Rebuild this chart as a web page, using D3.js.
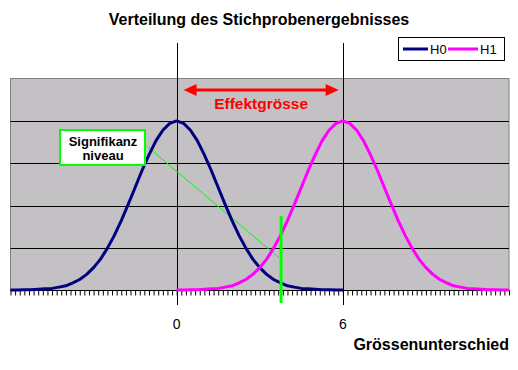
<!DOCTYPE html>
<html>
<head>
<meta charset="utf-8">
<script src="https://cdn.jsdelivr.net/npm/d3@7/dist/d3.min.js"></script>
<style>
  body { margin: 0; background: #fff; }
  text { font-family: "Liberation Sans", Arial, sans-serif; }
</style>
</head>
<body>
<svg id="chart" width="518" height="370"></svg>
<script>
// data
var xH0 = [-6, -5.75, -5.5, -5.25, -5, -4.75, -4.5, -4.25, -4, -3.75, -3.5, -3.25, -3,
           -2.75, -2.5, -2.25, -2, -1.75, -1.5, -1.25, -1, -0.75, -0.5, -0.25, 0,
           0.25, 0.5, 0.75, 1, 1.25, 1.5, 1.75, 2, 2.25, 2.5, 2.75, 3,
           3.25, 3.5, 3.75, 4, 4.25, 4.5, 4.75, 5, 5.25, 5.5, 5.75, 6];
var yH0 = [0.001, 0.001, 0.002, 0.002, 0.003, 0.004, 0.005, 0.008, 0.011, 0.018, 0.026, 0.038, 0.054,
           0.074, 0.100, 0.130, 0.165, 0.203, 0.243, 0.283, 0.320, 0.353, 0.378, 0.394, 0.400,
           0.394, 0.378, 0.353, 0.320, 0.283, 0.243, 0.203, 0.165, 0.130, 0.100, 0.074, 0.054,
           0.038, 0.026, 0.018, 0.011, 0.008, 0.005, 0.004, 0.003, 0.002, 0.002, 0.001, 0.001];
var xH1 = [0, 0.25, 0.5, 0.75, 1, 1.25, 1.5, 1.75, 2, 2.25, 2.5, 2.75, 3,
           3.25, 3.5, 3.75, 4, 4.25, 4.5, 4.75, 5, 5.25, 5.5, 5.75, 6,
           6.25, 6.5, 6.75, 7, 7.25, 7.5, 7.75, 8, 8.25, 8.5, 8.75, 9,
           9.25, 9.5, 9.75, 10, 10.25, 10.5, 10.75, 11, 11.25, 11.5, 11.75, 12];
var yH1 = [0.001, 0.001, 0.002, 0.002, 0.003, 0.004, 0.005, 0.008, 0.011, 0.018, 0.026, 0.038, 0.054,
           0.074, 0.100, 0.130, 0.165, 0.203, 0.243, 0.283, 0.320, 0.353, 0.378, 0.394, 0.400,
           0.394, 0.378, 0.353, 0.320, 0.283, 0.243, 0.203, 0.165, 0.130, 0.100, 0.074, 0.054,
           0.038, 0.026, 0.018, 0.011, 0.008, 0.005, 0.004, 0.003, 0.002, 0.002, 0.001, 0.001];
var seriesNames = ["H0", "H1"];
var seriesColors = ["#000080", "#ff00ff"];
var tickLabels = [0, 6];
var gridValues = [0.1, 0.2, 0.3, 0.4];
var sigLevel = 3.77;          // green vertical line
var effectFrom = 0.25, effectTo = 5.85;

var svg = d3.select("#chart");
var x = d3.scaleLinear().domain([-6, 12]).range([10.5, 509]);
var y = d3.scaleLinear().domain([0, 0.5]).range([290.5, 78.5]);

// title
svg.append("text")
    .attr("x", 259).attr("y", 25)
    .attr("text-anchor", "middle")
    .style("font-size", "16px").style("font-weight", "bold")
    .text("Verteilung des Stichprobenergebnisses");

// plot area
svg.append("rect")
    .attr("x", x(-6)).attr("y", y(0.5))
    .attr("width", x(12) - x(-6)).attr("height", y(0) - y(0.5))
    .style("fill", "#c4c1c4").style("stroke", "#808080");

svg.selectAll(".grid")
    .data(gridValues)
    .enter().append("line")
    .attr("class", "grid")
    .attr("x1", x(-6)).attr("x2", x(12))
    .attr("y1", function(d){ return Math.round(y(d)) + 0.5; })
    .attr("y2", function(d){ return Math.round(y(d)) + 0.5; })
    .style("stroke", "#000");

// x axis with minor ticks every 1/6
var minorTicks = d3.range(0, 109).map(function(i){ return -6 + i / 6; });
var xAxis = d3.axisBottom(x)
    .tickValues(minorTicks)
    .tickSize(5)
    .tickFormat("");
var gx = svg.append("g")
    .attr("transform", "translate(0," + y(0) + ")")
    .call(xAxis);
gx.select(".domain").remove();
gx.selectAll(".tick line").style("stroke", "#000");
svg.append("line")
    .attr("x1", x(-6)).attr("x2", x(12))
    .attr("y1", y(0)).attr("y2", y(0))
    .style("stroke", "#000");

svg.selectAll(".tlabel")
    .data(tickLabels)
    .enter().append("text")
    .attr("class", "tlabel")
    .attr("x", function(d){ return x(d); })
    .attr("y", 329)
    .attr("text-anchor", "middle")
    .style("font-size", "14px")
    .text(function(d){ return d; });

// long lines at 0 and 6
svg.selectAll(".vline")
    .data(tickLabels)
    .enter().append("line")
    .attr("class", "vline")
    .attr("x1", function(d){ return Math.round(x(d)) + 0.5; })
    .attr("x2", function(d){ return Math.round(x(d)) + 0.5; })
    .attr("y1", 43).attr("y2", 305)
    .style("stroke", "#000");

// leader line from label to significance line
svg.append("line")
    .attr("x1", x(-1.2)).attr("y1", y(0.347))
    .attr("x2", x(3.7)).attr("y2", y(0.077))
    .style("stroke", "#00ff00").style("stroke-width", 1);

// curves
var line = d3.line()
    .x(function(d){ return x(d[0]); })
    .y(function(d){ return y(d[1]); });
var curves = [d3.zip(xH0, yH0), d3.zip(xH1, yH1)];
svg.selectAll(".curve")
    .data(curves)
    .enter().append("path")
    .attr("class", "curve")
    .attr("d", line)
    .style("fill", "none")
    .style("stroke", function(d, i){ return seriesColors[i]; })
    .style("stroke-width", 3)
    .style("stroke-linejoin", "round");

// significance line
svg.append("line")
    .attr("x1", x(sigLevel)).attr("x2", x(sigLevel))
    .attr("y1", 216).attr("y2", 303)
    .style("stroke", "#00ff00").style("stroke-width", 3);

// label box
svg.append("rect")
    .attr("x", 60).attr("y", 130)
    .attr("width", 85).attr("height", 35)
    .style("fill", "#fff").style("stroke", "#00ff00").style("stroke-width", 2);
svg.append("text")
    .attr("x", 103).attr("y", 146)
    .attr("text-anchor", "middle")
    .style("font-size", "13px").style("font-weight", "bold")
    .text("Signifikanz");
svg.append("text")
    .attr("x", 103).attr("y", 160)
    .attr("text-anchor", "middle")
    .style("font-size", "13px").style("font-weight", "bold")
    .text("niveau");

// effect size arrow
var ay = 90;
var ax1 = x(effectFrom), ax2 = x(effectTo);
svg.append("line")
    .attr("x1", ax1 + 8).attr("x2", ax2 - 8)
    .attr("y1", ay).attr("y2", ay)
    .style("stroke", "#ff0000").style("stroke-width", 3);
svg.append("path")
    .attr("d", "M" + ax1 + "," + ay + "L" + (ax1 + 13) + "," + (ay - 6) + "L" + (ax1 + 13) + "," + (ay + 6) + "Z")
    .style("fill", "#ff0000");
svg.append("path")
    .attr("d", "M" + ax2 + "," + ay + "L" + (ax2 - 13) + "," + (ay - 6) + "L" + (ax2 - 13) + "," + (ay + 6) + "Z")
    .style("fill", "#ff0000");
svg.append("text")
    .attr("x", (ax1 + ax2) / 2).attr("y", 109)
    .attr("text-anchor", "middle")
    .style("font-size", "15.5px").style("font-weight", "bold")
    .style("fill", "#ff0000")
    .text("Effektgrösse");

// axis title
svg.append("text")
    .attr("x", 509).attr("y", 350)
    .attr("text-anchor", "end")
    .style("font-size", "16px").style("font-weight", "bold")
    .text("Grössenunterschied");

// legend
svg.append("rect")
    .attr("x", 398.5).attr("y", 37.5)
    .attr("width", 106).attr("height", 23)
    .style("fill", "#fff").style("stroke", "#000");
var legX = [403, 448];
var leg = svg.selectAll(".leg")
    .data(seriesNames)
    .enter().append("g")
    .attr("class", "leg")
    .attr("transform", function(d, i){ return "translate(" + legX[i] + ",49)"; });
leg.append("line")
    .attr("x1", 0).attr("x2", function(d, i){ return i == 0 ? 25 : 30; })
    .style("stroke", function(d, i){ return seriesColors[i]; })
    .style("stroke-width", 3);
leg.append("text")
    .attr("x", function(d, i){ return i == 0 ? 27 : 32; })
    .attr("y", 5)
    .style("font-size", "13px")
    .text(function(d){ return d; });
</script>
</body>
</html>
